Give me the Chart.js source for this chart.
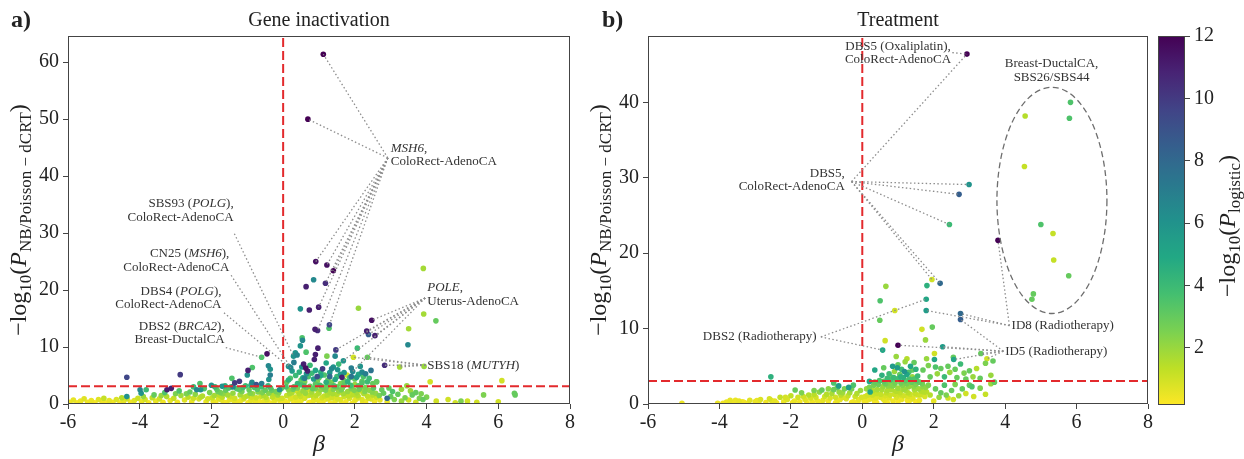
<!DOCTYPE html>
<html><head><meta charset="utf-8">
<script src="https://cdn.jsdelivr.net/npm/chart.js@4/dist/chart.umd.min.js"></script>
<style>
html,body{margin:0;padding:0;background:#fff;}
#wrap{position:relative;width:1244px;height:459px;overflow:hidden;background:#fff;}
canvas{position:absolute;top:0;}
</style></head>
<body><div id="wrap">
<canvas id="ca" width="580" height="459" style="left:0;width:580px;height:459px"></canvas>
<canvas id="cb" width="664" height="459" style="left:580px;width:664px;height:459px"></canvas>
<canvas id="cc" width="94" height="459" style="left:1150px;width:94px;height:459px"></canvas>
</div>
<script>
// ---------------- DATA ----------------
const xTicks = [-6,-4,-2,0,2,4,6,8];
const geneYTicks = [0,10,20,30,40,50,60];
const treatYTicks = [0,10,20,30,40];
const cbTicks = [2,4,6,8,10,12];
const cbMin = 0.17, cbMax = 12;
const geneThreshold = 3.1, treatThreshold = 3.05;

// [beta, -log10 P_NB, -log10 P_logistic]
const geneMSH6 = [[1.12,61.4,12],[0.69,50.0,12],[0.91,25.0,11.5],[1.22,24.4,11.5],[1.40,23.4,12],[1.18,21.2,10.5],[0.99,17.0,11],[1.29,13.9,9.5],[0.96,12.9,10.5]];
const genePOLE = [[2.47,14.7,11.5],[2.33,12.8,11],[2.38,12.2,8.5],[2.56,12.0,11],[1.47,9.5,10],[1.68,7.6,6],[1.94,5.7,6.5]];
const geneSBS18 = [[2.83,6.8,10.5],[3.25,6.5,1.8],[2.35,8.2,3],[1.96,8.2,1]];
const geneSBS93 = [[0.29,8.4,6]];
const geneCN25 = [[0.21,6.4,6.5]];
const geneDBS4 = [[0.15,6.6,6]];
const geneDBS2 = [[-0.6,8.2,3.5]];
const geneOther = [
[0.85,21.8,6.5],[0.64,20.6,11],[0.48,16.7,6],[0.73,16.5,11],[1.28,13.3,3.5],[0.89,13.1,11],[2.10,16.8,2],[3.91,23.8,1.8],[3.92,15.8,1.8],[4.26,14.6,3],[3.50,13.2,1.8],[3.48,10.4,6.5],[0.53,11.6,3.5],[0.54,11.2,6.5],[0.48,10.2,6],[0.39,8.6,6.5],[0.97,9.8,11],[0.64,9.1,3.5],[0.87,7.8,11],[0.57,7.0,11],[0.63,6.3,11.5],[0.68,5.8,11],[0.52,6.5,6],[1.22,8.4,2.5],[1.45,8.4,6.5],[2.07,9.8,4],[3.93,6.6,2],[1.40,6.5,6],[1.52,6.0,6],[1.64,4.7,11],[1.78,5.1,1],[2.24,4.8,3.5],[0.34,9.0,6],[0.9,8.7,11],[1.1,6.2,10],[1.3,5.5,6],[2.0,4.4,3],[2.6,3.9,3],[2.9,1.0,8],
[-4.36,4.7,9.5],[-2.87,5.15,10],[-3.24,2.5,11],[-3.12,2.75,11],[-3.99,2.5,6.5],[-3.96,1.9,6],[-3.82,2.5,4],[-4.36,1.3,6],[-2.32,3.6,3.5],[-2.0,3.3,6],[-2.41,2.5,6.5],[-1.43,4.5,3.5],[-1.4,3.0,6.5],[-1.0,5.1,6],[-0.98,5.9,11],[-0.86,6.4,3.5],[-0.87,3.8,6.5],[-0.45,8.8,11.5],[-0.41,6.7,6.5],[-0.36,6.1,6],[-0.36,5.1,7],[-1.22,4.0,10],[-0.4,4.3,6],[-1.35,3.7,10],[-1.7,3.1,6],[-2.3,2.5,6],[-0.1,2.5,6],[-0.6,3.6,7],[-0.75,3.4,9],
[0.2,4.5,3.5],[0.35,5.0,4],[0.5,4.2,3],[0.7,4.8,3.5],[0.8,5.4,4],[1.0,4.6,3],[1.15,5.1,3.5],[1.25,4.2,3],[1.5,4.8,4],[1.7,4.1,3],[1.85,4.6,3.5],[2.1,5.2,5],[2.2,4.0,3],[2.4,4.5,4],[2.5,3.6,3],[0.1,3.8,3],[0.6,3.9,2.5],[0.95,4.0,2.5],[1.35,3.8,2.5],[1.6,3.6,2.5],[2.0,3.4,2],[0.45,5.6,4.5],[0.9,5.9,5],[1.05,5.6,4.5],[1.7,5.5,6],[2.3,5.3,7],[1.2,7.2,5],[0.75,6.8,4],[1.9,6.3,7],[2.15,6.6,6],[0.3,7.3,7],[2.45,5.9,7.5],[1.55,7.0,4],
[-5.95,0.3,0.4],[-5.85,0.7,0.6],[-5.75,0.2,0.3],[-5.65,0.5,0.5],[-5.55,0.9,0.7],[-5.45,0.3,0.4],[-5.35,0.6,0.5],[-5.25,0.2,0.3],[-5.15,0.8,0.7],[-5.05,0.4,0.4],[-4.95,0.2,0.3],[-4.85,0.6,0.6],[-4.75,0.3,0.4],[-4.65,0.8,0.8],[-4.55,0.2,0.3],[-4.45,0.5,0.6],[-4.35,0.9,1.0],[-4.25,0.3,0.4],[-4.15,0.6,0.7],[-4.05,1.0,1.1],[-3.95,0.4,0.5],[-3.85,0.8,0.9],[-3.75,0.2,0.3],[-3.65,1.1,1.3],[-3.55,0.5,0.5],[-3.45,0.9,1.0],[-3.35,0.3,0.4],[-3.25,1.3,1.6],[-3.15,0.6,0.6],[-3.05,1.0,1.2],[-2.95,0.3,0.4],[-2.85,1.5,1.9],[-2.75,0.7,0.7],[-2.65,1.2,1.4],[-2.55,0.4,0.5],[-2.45,1.7,2.2],[-2.35,0.9,0.9],[-2.25,1.4,1.6],[-2.15,0.4,0.5],[-2.05,2.0,2.6],
[-3.6,1.6,3],[-3.3,2.0,3.5],[-2.9,2.3,3.5],[-2.6,2.1,3],[-2.2,2.7,3.5],[-2.5,3.0,4],
[-1.95,0.5,0.5],[-1.92,1.5,1.8],[-1.85,2.6,3.2],[-1.8,0.9,0.8],[-1.75,2.0,2.6],[-1.7,1.2,1.4],[-1.65,0.3,0.4],[-1.6,2.4,3.0],[-1.55,1.6,1.8],[-1.5,0.7,0.6],[-1.45,3.0,3.6],[-1.4,1.9,2.1],[-1.35,1.0,1.0],[-1.3,2.7,3.4],[-1.25,0.4,0.5],[-1.2,1.6,1.8],[-1.15,2.2,2.6],[-1.1,0.9,0.9],[-1.05,3.2,4.0],[-1.0,1.4,1.5],[-0.95,2.5,2.9],[-0.9,0.6,0.6],[-0.85,1.8,2.0],[-0.8,2.9,3.5],[-0.75,1.1,1.1],[-0.7,2.1,2.4],[-0.65,0.4,0.4],[-0.6,3.0,3.8],[-0.55,1.5,1.6],[-0.5,2.4,3.0],[-0.45,0.8,0.8],[-0.4,1.9,2.3],[-0.35,2.8,3.3],[-0.3,1.2,1.3],[-0.25,0.5,0.5],[-0.2,2.2,2.6],[-0.15,1.6,1.9],[-0.1,0.9,0.9],[-0.05,2.7,3.1],[-1.88,0.2,0.3],[-1.58,0.2,0.3],[-1.28,0.2,0.3],[-0.98,0.2,0.3],[-0.68,0.2,0.3],[-0.38,0.2,0.3],[-0.08,0.3,0.3],[-1.72,0.7,0.6],[-1.18,0.6,0.5],[-0.62,1.3,1.1],[-0.28,1.8,1.5],[-1.48,1.3,1.1],[-0.88,1.2,1.0],[-0.18,1.1,0.9],[-1.78,1.6,1.4],[-0.52,0.5,0.5],
[-1.98,1.1,1.2],[-1.82,2.2,2.8],[-1.68,1.8,2.2],[-1.52,2.8,3.5],[-1.38,0.6,0.6],[-1.22,2.5,3.2],[-1.08,1.2,1.3],[-0.92,1.9,2.4],[-0.78,0.5,0.5],[-0.72,2.6,3.3],[-0.58,2.0,2.5],[-0.48,1.2,1.4],[-0.32,2.4,3.0],[-0.22,0.7,0.6],[-0.12,2.0,2.4],[-0.03,1.0,1.0],[-1.62,3.2,4.5],[-1.12,2.9,3.8],[-0.42,3.2,4.2],[-0.9,3.3,4.5],[-1.9,3.0,4],[-2.1,0.9,1.0],[-2.3,1.2,1.4],[-2.5,1.0,1.1],[-2.7,1.8,2.5],[-3.0,1.8,2.5],[-3.4,1.5,2],[-3.9,1.3,2],[-4.5,1.1,1.5],[-5.0,1.0,1.2],
[0.05,0.5,0.4],[0.1,1.5,1.2],[0.15,2.5,2.2],[0.2,0.9,0.8],[0.25,2.0,1.6],[0.3,0.3,0.3],[0.35,1.2,1.0],[0.4,2.8,2.5],[0.45,1.8,1.5],[0.5,0.6,0.5],[0.55,2.3,2.0],[0.6,1.0,0.9],[0.65,2.9,3.0],[0.7,1.5,1.2],[0.75,0.3,0.3],[0.8,2.1,1.8],[0.85,1.2,1.0],[0.9,2.7,2.6],[0.95,0.7,0.6],[1.0,1.9,1.6],[1.05,2.5,2.2],[1.1,0.4,0.4],[1.15,1.4,1.2],[1.2,2.9,2.8],[1.25,0.9,0.8],[1.3,2.0,1.7],[1.35,1.1,1.0],[1.4,2.6,2.4],[1.45,0.5,0.5],[1.5,1.7,1.5],[1.55,2.3,2.1],[1.6,0.8,0.7],[1.65,2.8,2.6],[1.7,1.3,1.1],[1.75,0.4,0.4],[1.8,2.2,2.0],[1.85,1.0,0.9],[1.9,2.7,2.5],[1.95,1.6,1.4],[2.0,0.6,0.5],[2.05,2.0,1.8],[2.1,1.2,1.0],[2.15,2.9,2.7],[2.2,0.8,0.7],[2.25,1.8,1.6],[2.3,0.4,0.4],[2.35,1.4,1.3],[2.4,2.4,2.2],[2.45,0.9,0.8],[2.5,1.6,1.5],[2.55,0.5,0.4],[2.6,1.2,1.1],
[0.12,0.2,0.3],[0.42,0.1,0.3],[0.72,0.2,0.3],[1.02,0.2,0.3],[1.32,0.15,0.3],[1.62,0.2,0.3],[1.92,0.1,0.3],[2.22,0.2,0.3],[0.25,1.1,0.6],[0.55,1.4,0.7],[0.85,0.6,0.5],[1.15,0.7,0.5],[1.45,1.3,0.8],[1.75,1.6,0.9],[2.05,0.9,0.6],[0.3,3.0,3.5],[0.75,3.1,3.0],[1.1,3.0,2.8],[1.5,3.0,3.0],[1.9,3.1,3.0],[2.3,2.9,2.5],[0.4,2.2,1.0],[0.68,2.4,1.1],[0.98,2.2,1.0],[1.28,2.5,1.2],[1.58,2.0,1.0],[1.88,2.1,1.1],[2.18,2.3,1.2],[0.5,3.4,3.5],[0.9,3.5,3.2],[1.3,3.4,3.0],[1.7,3.3,3.2],[2.1,3.2,3.4],
[0.08,3.0,3.6],[0.18,1.8,1.7],[0.28,2.6,2.8],[0.38,0.6,0.5],[0.48,1.3,1.2],[0.58,3.2,3.8],[0.62,1.9,2.0],[0.78,1.6,1.4],[0.82,2.7,3.0],[0.92,1.5,1.4],[1.03,3.3,3.8],[1.08,1.1,1.0],[1.18,2.4,2.5],[1.23,1.6,1.5],[1.38,1.8,1.7],[1.42,3.2,3.6],[1.52,0.9,0.9],[1.62,2.5,2.6],[1.68,1.8,1.8],[1.82,1.4,1.3],[1.88,3.3,3.8],[1.98,2.4,2.5],[2.08,1.5,1.5],[2.12,2.6,2.8],[2.28,2.2,2.4],[2.38,1.0,1.0],[2.48,2.1,2.3],[2.52,2.8,3.2],[2.58,1.9,2.1],[0.15,4.2,4.5],[0.55,4.6,5],[0.85,4.4,5.5],[1.2,3.8,4.5],[1.45,4.3,5],[1.8,3.9,4.5],[2.05,4.7,5.5],[2.35,3.9,4],[0.4,3.6,4.2],[1.05,5.0,5],[1.6,5.2,5.5],[0.65,5.3,6],[2.2,5.6,6.5],[0.25,5.8,5.5],[1.35,6.2,6.5],[1.9,4.8,7.5],[0.95,4.8,9],[1.3,4.8,8],[0.6,4.5,7],
[2.7,0.7,0.6],[2.8,1.9,3],[2.9,0.4,0.5],[3.0,1.3,3],[3.1,0.8,2.5],[3.2,1.7,3],[3.3,0.5,2],[3.4,1.1,2.5],[3.5,0.7,1],[3.6,1.6,3],[3.7,0.3,1],[3.8,1.0,2.5],[3.9,0.8,3],[4.1,3.9,1],[6.1,4.1,1],[6.47,1.6,3],[6.45,1.9,3],[5.59,1.6,2.5],[4.96,0.5,2.5],[5.14,0.5,1],[4.27,0.5,1],[4.6,0.8,1],[4.0,1.2,2.5],[3.55,2.3,2],[3.3,2.6,2],[2.61,3.9,3],[2.75,2.5,3],[3.05,2.2,3.5],[2.68,1.5,2.5],[2.95,2.8,3],[3.45,3.2,2],[2.2,3.7,3.5],[3.7,2.0,3],[3.85,1.8,2.5],[4.8,0.2,1],[5.4,0.3,1],[6.0,0.4,1]
];

const treatOxali = [[2.93,46.4,12]];
const treatDBS5 = [[2.99,29.1,6],[2.71,27.8,8.5],[2.44,23.8,4],[1.95,16.5,1],[2.18,16.0,8]];
const treatDBS2 = [[1.79,13.9,5],[0.57,7.15,5]];
const treatID8 = [[3.80,21.7,12],[1.79,12.4,5.5],[2.75,12.0,8]];
const treatID5 = [[1.0,7.8,12],[2.75,11.2,8.5],[2.25,7.6,5.5],[2.56,5.9,5],[3.49,6.0,1],[3.32,6.7,3]];
const treatBreast = [[5.83,40.0,3.5],[4.56,38.2,1.5],[5.8,37.9,3.5],[4.54,31.5,1.2],[5.0,23.8,3.5],[5.34,22.6,1.2],[5.36,19.1,1.2],[5.78,17.0,3],[4.79,14.6,3],[4.75,13.9,3]];
const treatOther = [
[1.81,15.7,4.5],[0.66,15.6,2],[0.5,13.7,3.5],[0.91,12.4,1],[0.49,11.1,3],[1.67,9.9,1],[1.96,10.2,3],[0.64,8.4,1],[1.77,8.5,2],[2.02,6.7,1],[2.02,5.9,5],[3.66,5.7,3],[0.35,4.5,5],[-2.56,3.6,4.5],[-0.66,2.4,5.5],[-0.38,2.2,5.5],[-0.8,2.8,3.5],[-1.88,1.85,3],[-1.13,1.85,3],
[1.0,5.2,3],[1.1,4.6,4],[1.2,5.6,2],[1.3,4.2,3.5],[1.35,5.0,5],[1.05,3.9,3],[1.15,3.5,4.5],[1.4,3.6,2],[0.9,4.3,2],[0.8,3.6,3],[1.25,6.0,1.5],[1.5,4.6,4.5],[0.95,6.3,2],[1.45,5.5,3],
[1.7,4.5,3],[1.85,5.1,2.5],[1.9,3.6,3],[2.05,4.9,3.5],[2.1,4.0,2],[2.2,4.7,3],[2.3,3.6,4],[2.4,5.0,3],[2.45,4.2,2],[2.6,4.6,3],[2.65,3.5,3],[2.75,5.3,4],[2.85,4.1,2.5],[2.9,3.3,3],[3.0,4.4,3],[3.1,3.6,2],[3.2,4.7,1.5],[3.3,3.4,3],[3.45,5.4,2.5],[3.6,3.8,2],[3.7,2.9,3],[2.55,6.2,3],[1.8,6.0,2],
[-5.05,0.1,0.5],[-4.05,0.1,0.5],[-3.9,0.1,0.4],[-3.8,0.25,0.5],[-3.6,0.15,0.4],[-3.45,0.4,0.6],[-3.3,0.2,0.4],[-3.15,0.5,0.7],[-3.0,0.3,0.5],[-2.85,0.6,0.8],[-2.7,0.2,0.4],[-2.6,0.7,0.9],[-2.45,0.4,0.6],[-2.3,0.9,1.2],[-2.2,0.3,0.5],[-2.1,0.6,0.8],[-2.0,1.1,1.3],[-1.9,0.4,0.5],[-1.8,0.9,1.0],[-1.7,1.5,2.5],[-1.6,0.6,0.7],[-1.5,1.2,1.5],[-1.4,0.3,0.4],[-1.3,0.9,1.0],[-1.2,1.6,2.2],[-1.1,0.5,0.6],[-1.0,1.3,1.5],[-0.9,0.8,0.9],[-0.8,1.9,2.8],[-0.7,0.4,0.5],[-0.6,1.2,1.4],[-0.5,2.0,2.5],[-0.45,0.7,0.8],[-0.35,1.5,1.8],[-0.25,0.3,0.4],[-0.2,1.0,1.1],[-0.1,0.6,0.6],[-0.05,1.8,2.0],[-3.7,0.5,0.6],[-3.2,0.1,0.3],[-2.9,0.2,0.3],[-2.4,0.15,0.3],[-1.95,0.2,0.3],[-1.55,0.2,0.3],[-1.15,0.2,0.3],[-0.75,0.15,0.3],[-0.3,0.2,0.3],[-1.35,1.8,2.5],[-0.95,2.0,2.2],[-0.55,0.9,0.8],[-0.65,1.6,2],[-1.75,0.3,0.4],
[-1.45,0.8,0.9],[-1.25,0.4,0.5],[-1.05,1.0,1.1],[-0.85,1.4,1.7],[-0.75,0.9,1.0],[-0.62,0.6,0.6],[-0.55,1.5,1.9],[-0.4,1.1,1.2],[-0.3,2.0,2.6],[-0.15,1.4,1.6],[-0.12,0.3,0.3],[-0.02,0.9,0.9],[-0.95,0.4,0.4],[-1.35,1.3,1.4],[-1.65,1.0,1.0],[-2.15,0.9,0.9],[-2.55,0.5,0.6],[-2.95,0.45,0.5],[-3.35,0.3,0.4],[-3.55,0.5,0.5],[-0.7,2.2,3],[-0.25,2.5,3.5],
[0.05,0.4,0.4],[0.15,1.2,1.0],[0.2,2.2,2.5],[0.25,0.7,0.6],[0.3,1.8,1.6],[0.35,0.3,0.3],[0.4,1.4,1.2],[0.45,2.6,2.8],[0.5,0.9,0.8],[0.55,1.9,1.7],[0.6,3.0,3.2],[0.62,0.5,0.5],[0.68,1.5,1.3],[0.72,2.4,2.2],[0.75,0.8,0.7],[0.8,3.2,3.5],[0.82,1.9,1.6],[0.86,0.4,0.4],[0.9,1.3,1.1],[0.92,2.8,2.7],[0.96,0.9,0.8],[1.0,2.1,1.9],[1.02,3.4,3.8],[1.06,1.5,1.3],[1.1,0.6,0.5],[1.12,2.5,2.3],[1.16,1.1,1.0],[1.2,3.1,3.2],[1.22,1.8,1.6],[1.26,0.5,0.4],[1.3,2.3,2.1],[1.34,1.3,1.1],[1.38,2.9,3.0],[1.42,0.8,0.7],[1.46,1.9,1.7],[1.5,2.6,2.5],[1.55,1.2,1.0],[1.6,0.5,0.5],[1.65,1.7,1.5],[1.7,2.3,2.2],[1.75,1.0,0.9],[1.8,1.6,1.4],[0.1,0.15,0.3],[0.4,0.2,0.3],[0.7,0.15,0.3],[1.0,0.3,0.3],[1.3,0.2,0.3],[1.5,0.3,0.3],[0.58,2.3,2.0],[0.88,2.5,2.4],[1.18,2.0,1.9],[0.7,3.4,4.0],[1.08,3.6,4.5],[0.95,3.3,3],[1.45,3.3,3.5],[0.25,1.6,1.2],[0.65,1.1,0.9],[0.98,1.7,1.4],[1.28,1.0,0.8],[0.78,2.7,2.4],[1.6,2.9,3],[0.35,2.9,3],[0.22,1.6,5],[0.2,3.0,5],
[0.08,1.0,0.9],[0.12,2.0,2.0],[0.18,0.6,0.5],[0.28,1.2,1.1],[0.32,2.5,2.6],[0.38,0.8,0.7],[0.42,1.9,1.8],[0.48,3.1,3.5],[0.52,1.3,1.2],[0.58,0.7,0.6],[0.65,2.7,2.8],[0.7,1.8,1.6],[0.78,1.2,1.1],[0.84,2.4,2.3],[0.88,3.5,4],[0.94,1.7,1.5],[1.04,1.2,1.0],[1.08,2.8,2.8],[1.14,1.9,1.7],[1.24,2.7,2.6],[1.28,1.5,1.4],[1.32,3.3,3.6],[1.36,0.6,0.5],[1.44,2.3,2.2],[1.48,1.4,1.2],[1.52,3.1,3.4],[1.58,2.0,1.9],[1.62,1.2,1.1],[1.68,2.7,2.7],[1.72,1.6,1.5],[1.78,2.2,2.1],[0.55,3.8,4.5],[0.75,4.0,4],[0.98,4.8,5.5],[1.25,3.9,5],[1.4,4.5,3],[1.55,3.7,4],[0.6,4.8,3],[0.85,5.0,5.5],[1.18,4.3,6],
[1.9,1.2,1.5],[2.0,0.4,0.6],[2.05,2.0,3],[2.2,1.5,3],[2.3,2.5,3.5],[2.4,0.8,1],[2.5,1.8,3],[2.6,2.6,2.5],[2.7,1.1,2],[2.8,2.0,3],[2.9,1.4,1],[3.0,2.5,3],[3.07,2.3,3.5],[3.12,1.0,1],[3.3,2.1,2.5],[3.45,1.3,1.2],[3.6,2.7,2],[2.35,1.2,2.5],[2.55,0.6,1],[1.85,2.5,2.5],[2.15,0.9,2]
];

// annotation config (text anchors in data units)
const geneNotes = [
  {lines:['SBS93 (*POLG*),','ColoRect-AdenoCA'], at:[-1.38,35.1], align:'right', from:[-1.36,29.9], to:geneSBS93},
  {lines:['CN25 (*MSH6*),','ColoRect-AdenoCA'], at:[-1.5,26.4], align:'right', from:[-1.45,22.6], to:geneCN25},
  {lines:['DBS4 (*POLG*),','ColoRect-AdenoCA'], at:[-1.72,19.8], align:'right', from:[-1.65,16.0], to:geneDBS4},
  {lines:['DBS2 (*BRCA2*),','Breast-DuctalCA'], at:[-1.63,13.6], align:'right', from:[-1.6,9.9], to:geneDBS2},
  {lines:['*MSH6*,','ColoRect-AdenoCA'], at:[3.0,44.9], align:'left', from:[2.92,43.2], to:geneMSH6},
  {lines:['*POLE*,','Uterus-AdenoCA'], at:[4.02,20.35], align:'left', from:[3.96,18.6], to:genePOLE},
  {lines:['SBS18 (*MUTYH*)'], at:[4.02,6.8], align:'left', from:[3.97,6.8], to:geneSBS18}
];
const treatNotes = [
  {lines:['DBS5 (Oxaliplatin),','ColoRect-AdenoCA'], at:[1.0,47.4], align:'center', from:[2.52,46.6], to:treatOxali},
  {lines:['DBS5,','ColoRect-AdenoCA'], at:[-0.49,30.6], align:'right', from:[-0.3,29.5], to:treatOxali.concat(treatDBS5)},
  {lines:['DBS2 (Radiotherapy)'], at:[-1.28,8.9], align:'right', from:[-1.16,8.9], to:treatDBS2},
  {lines:['ID8 (Radiotherapy)'], at:[4.18,10.4], align:'left', from:[4.12,10.4], to:treatID8},
  {lines:['ID5 (Radiotherapy)'], at:[4.0,7.0], align:'left', from:[3.95,7.0], to:treatID5},
  {lines:['Breast-DuctalCA,','SBS26/SBS44'], at:[5.3,45.1], align:'center', to:[]}
];
const treatEllipse = {cx:5.31, cy:27.0, rx:1.54, ry:15.0};

// ---------------- HELPERS ----------------
const FONT = "'Liberation Serif','Times New Roman','DejaVu Serif',serif";
const VIR = ['#440154','#482475','#414487','#355f8d','#2a788e','#21918c','#22a884','#44bf70','#7ad151','#bddf26','#fde725'];
function hex2rgb(h){return [parseInt(h.slice(1,3),16),parseInt(h.slice(3,5),16),parseInt(h.slice(5,7),16)];}
const VIRRGB = VIR.map(hex2rgb);
function viridis(u){
  u = Math.max(0, Math.min(1, u));
  const p = u*10, i = Math.min(9, Math.floor(p)), f = p - i;
  const a = VIRRGB[i], b = VIRRGB[i+1];
  return 'rgb(' + a.map((v,k)=>Math.round(v + (b[k]-v)*f)).join(',') + ')';
}
function colorOf(c){ return viridis(1 - (c - cbMin)/(cbMax - cbMin)); }

function parseRich(s){ return s.split('*').map((t,i)=>({t:t, it:i%2===1})).filter(g=>g.t.length); }
function drawRichLine(ctx, s, x, y, size, align){
  const segs = parseRich(s); let w = 0;
  segs.forEach(g=>{ ctx.font=(g.it?'italic ':'')+size+'px '+FONT; g.w=ctx.measureText(g.t).width; w+=g.w; });
  let cx = align==='right' ? x-w : (align==='center' ? x-w/2 : x);
  ctx.textAlign='left'; ctx.textBaseline='middle';
  segs.forEach(g=>{ ctx.font=(g.it?'italic ':'')+size+'px '+FONT; ctx.fillText(g.t,cx,y); cx+=g.w; });
}
function drawMath(ctx, segs, x, y, rot){
  ctx.save(); ctx.translate(x,y); ctx.rotate(rot);
  ctx.textAlign='left'; ctx.textBaseline='alphabetic'; ctx.fillStyle='#222';
  let w=0;
  segs.forEach(g=>{ ctx.font=(g.it?'italic ':'')+g.s+'px '+FONT; g.w=ctx.measureText(g.t).width; w+=g.w; });
  let cx=-w/2;
  segs.forEach(g=>{ ctx.font=(g.it?'italic ':'')+g.s+'px '+FONT; ctx.fillText(g.t,cx,g.dy||0); cx+=g.w; });
  ctx.restore();
}
const yLabelSegs = [{t:'\u2212log',s:24},{t:'10',s:17,dy:5},{t:'(',s:24},{t:'P',s:24,it:true},{t:'NB/Poisson \u2212 dCRT',s:17,dy:5},{t:')',s:24}];
const cbLabelSegs = [{t:'\u2212log',s:24},{t:'10',s:17,dy:5},{t:'(',s:24},{t:'P',s:24,it:true},{t:'logistic',s:17,dy:5},{t:')',s:24}];

function panelPlugin(cfg){
  return {
    id:'panel_'+cfg.key,
    afterDatasetsDraw(chart){
      const ctx=chart.ctx, a=chart.chartArea, xs=chart.scales.x, ys=chart.scales.y;
      const px=v=>xs.getPixelForValue(v), py=v=>ys.getPixelForValue(v);
      ctx.save();
      ctx.beginPath(); ctx.rect(a.left,a.top,a.right-a.left,a.bottom-a.top); ctx.clip();
      ctx.strokeStyle='#e32a2d'; ctx.lineWidth=2; ctx.setLineDash([9,4]);
      ctx.beginPath(); ctx.moveTo(a.left,py(cfg.thr)); ctx.lineTo(a.right,py(cfg.thr)); ctx.stroke();
      ctx.beginPath(); ctx.moveTo(px(0),a.top+2); ctx.lineTo(px(0),py(cfg.thr)); ctx.stroke();
      if(cfg.ellipse){
        const e=cfg.ellipse;
        ctx.strokeStyle='#6e6e6e'; ctx.lineWidth=1.3; ctx.setLineDash([6,3.5]);
        ctx.beginPath();
        ctx.ellipse(px(e.cx),py(e.cy),Math.abs(px(e.cx+e.rx)-px(e.cx)),Math.abs(py(e.cy+e.ry)-py(e.cy)),0,0,Math.PI*2);
        ctx.stroke();
      }
      ctx.strokeStyle='#8d8d8d'; ctx.lineWidth=1.3; ctx.setLineDash([1.5,2.4]);
      cfg.notes.forEach(n=>{
        if(!n.from) return;
        n.to.forEach(p=>{ ctx.beginPath(); ctx.moveTo(px(n.from[0]),py(n.from[1])); ctx.lineTo(px(p[0]),py(p[1])); ctx.stroke(); });
      });
      ctx.restore();
      ctx.save(); ctx.fillStyle='#333';
      cfg.notes.forEach(n=>{
        n.lines.forEach((ln,i)=>drawRichLine(ctx, ln, px(n.at[0]), py(n.at[1])+i*13.5, 13, n.align));
      });
      ctx.restore();
    },
    afterDraw(chart){
      const ctx=chart.ctx, a=chart.chartArea;
      ctx.save();
      ctx.strokeStyle='#444'; ctx.lineWidth=1; ctx.setLineDash([]);
      ctx.strokeRect(Math.round(a.left)+0.5, Math.round(a.top)+0.5, Math.round(a.right-a.left)-1, Math.round(a.bottom-a.top)-1);
      const cx=(a.left+a.right)/2;
      ctx.fillStyle='#222'; ctx.textAlign='center'; ctx.textBaseline='middle';
      ctx.font='20px '+FONT; ctx.fillText(cfg.title, cx, 21);
      ctx.textAlign='left'; ctx.font='bold 24px '+FONT; ctx.fillText(cfg.letter, cfg.letterX, 21);
      drawMath(ctx, [{t:'\u03b2',s:24,it:true}], cx, 451, 0);
      drawMath(ctx, yLabelSegs.map(g=>Object.assign({},g)), cfg.yLabelX, (a.top+a.bottom)/2, -Math.PI/2);
      ctx.restore();
    }
  };
}

function makePanel(id, groups, cfg){
  const pts=[].concat(...groups).slice().sort((p,q)=>p[2]-q[2]);
  const tickFont={family:FONT,size:20};
  return new Chart(document.getElementById(id), {
    type:'scatter',
    data:{datasets:[{
      data:pts.map(p=>({x:p[0],y:p[1],c:p[2]})),
      pointRadius:2.8, pointHoverRadius:2.8, pointBorderWidth:0, borderWidth:0,
      backgroundColor:ctx=>colorOf(ctx.raw?ctx.raw.c:0),
      pointBackgroundColor:ctx=>colorOf(ctx.raw?ctx.raw.c:0),
      clip:0
    }]},
    options:{
      responsive:false, animation:false, events:[], devicePixelRatio:1,
      layout:{padding:{left:0,right:cfg.padR,top:36,bottom:0}},
      plugins:{legend:{display:false},tooltip:{enabled:false}},
      scales:{
        x:{type:'linear',min:-6,max:8,
          afterBuildTicks:s=>{s.ticks=xTicks.map(v=>({value:v}));},
          afterFit:s=>{s.height=55;s.paddingLeft=0;s.paddingRight=0;},
          ticks:{font:tickFont,color:'#222',padding:2,autoSkip:false,maxRotation:0,callback:v=>(v<0?'-'+Math.abs(v):String(v))},
          grid:{display:true,drawOnChartArea:false,drawTicks:true,tickLength:5,color:'#444',lineWidth:1},
          border:{display:false}},
        y:{type:'linear',min:0,max:cfg.ymax,
          afterBuildTicks:s=>{s.ticks=cfg.yTicks.map(v=>({value:v}));},
          afterFit:s=>{s.width=68;s.paddingTop=0;s.paddingBottom=0;},
          ticks:{font:tickFont,color:'#222',padding:4,autoSkip:false},
          grid:{display:true,drawOnChartArea:false,drawTicks:true,tickLength:5,color:'#444',lineWidth:1},
          border:{display:false}}
      }
    },
    plugins:[panelPlugin(cfg)]
  });
}

makePanel('ca', [geneOther,geneMSH6,genePOLE,geneSBS18,geneSBS93,geneCN25,geneDBS4,geneDBS2],
  {key:'a', padR:10, ymax:64.6, yTicks:geneYTicks, thr:geneThreshold, notes:geneNotes, title:'Gene inactivation', letter:'a)', letterX:11, yLabelX:26});
makePanel('cb', [treatOther,treatOxali,treatDBS5,treatDBS2,treatID8,treatID5,treatBreast],
  {key:'b', padR:96, ymax:48.8, yTicks:treatYTicks, thr:treatThreshold, notes:treatNotes, ellipse:treatEllipse, title:'Treatment', letter:'b)', letterX:22, yLabelX:26});

new Chart(document.getElementById('cc'), {
  type:'scatter', data:{datasets:[]},
  options:{
    responsive:false, animation:false, events:[], devicePixelRatio:1,
    layout:{padding:{left:8,right:0,top:36,bottom:54}},
    plugins:{legend:{display:false},tooltip:{enabled:false}},
    scales:{
      x:{display:false,min:0,max:1},
      y:{position:'right',min:cbMin,max:cbMax,
        afterBuildTicks:s=>{s.ticks=cbTicks.map(v=>({value:v}));},
        afterFit:s=>{s.width=59;s.paddingTop=0;s.paddingBottom=0;},
        ticks:{font:{family:FONT,size:20},color:'#222',padding:4,autoSkip:false},
        grid:{display:true,drawOnChartArea:false,drawTicks:true,tickLength:5,color:'#444'},
        border:{display:false}}
    }
  },
  plugins:[{
    id:'cbar',
    beforeDatasetsDraw(chart){
      const ctx=chart.ctx, a=chart.chartArea, ys=chart.scales.y;
      const g=ctx.createLinearGradient(0,ys.getPixelForValue(cbMax),0,ys.getPixelForValue(cbMin));
      for(let k=0;k<=20;k++){ const v=cbMax-(cbMax-cbMin)*k/20; g.addColorStop(k/20,colorOf(v)); }
      ctx.save(); ctx.fillStyle=g; ctx.fillRect(a.left,a.top,a.right-a.left,a.bottom-a.top); ctx.restore();
    },
    afterDraw(chart){
      const ctx=chart.ctx, a=chart.chartArea;
      ctx.save(); ctx.strokeStyle='#444'; ctx.lineWidth=1;
      ctx.strokeRect(Math.round(a.left)+0.5,Math.round(a.top)+0.5,Math.round(a.right-a.left)-1,Math.round(a.bottom-a.top)-1);
      drawMath(ctx, cbLabelSegs.map(g=>Object.assign({},g)), 85, 226, -Math.PI/2);
      ctx.restore();
    }
  }]
});
</script>
</body></html>
